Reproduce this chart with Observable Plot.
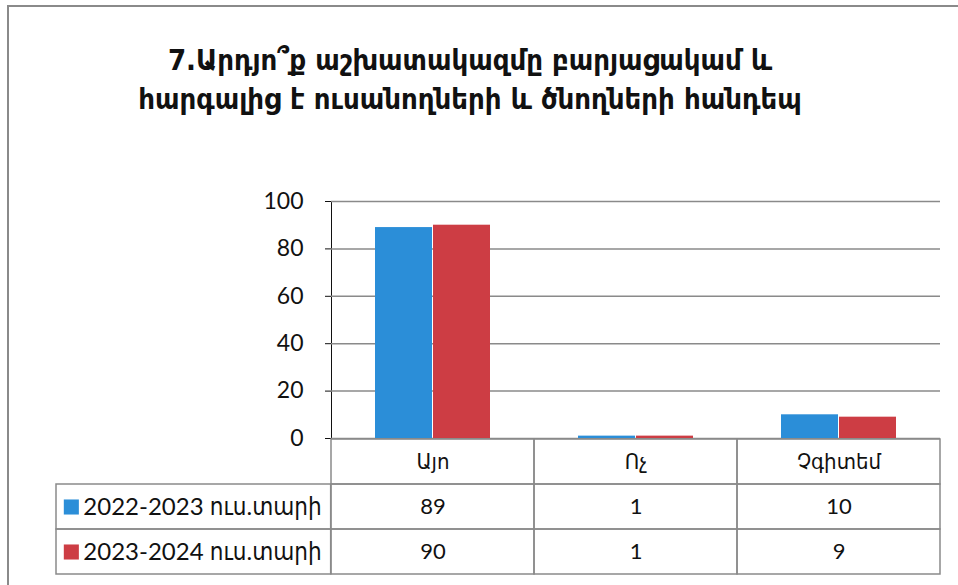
<!DOCTYPE html>
<html>
<head>
<meta charset="utf-8">
<script src="https://cdn.jsdelivr.net/npm/d3@7"></script>
<script src="https://cdn.jsdelivr.net/npm/@observablehq/plot@0.6"></script>
<style>
  html, body { margin: 0; padding: 0; background: #fff; }
  #page { position: relative; width: 958px; height: 585px; overflow: hidden; background: #fff; }
  #frame { position: absolute; left: 7px; top: 5px; width: 960px; height: 590px;
           border-left: 2px solid #8a8a8a; border-top: 2px solid #8a8a8a; }
  #title { position: absolute; left: 0; width: 940px; top: 41px; text-align: center;
           font-family: "DejaVu Sans Condensed", "DejaVu Sans", sans-serif; font-weight: bold;
           font-size: 29px; line-height: 39px; color: #111; }
  #chart { position: absolute; left: 0; top: 150px; }
  #table { position: absolute; left: 0; top: 437px; }
</style>
</head>
<body>
<div id="page">
  <div id="frame"></div>
  <div id="title">7.Արդյո՞ք աշխատակազմը բարյացակամ և<br>հարգալից է ուսանողների և ծնողների հանդեպ</div>
  <div id="chart"></div>
  <div id="table"></div>
</div>
<script>
const categories = ["Այո", "Ոչ", "Չգիտեմ"];
const series = ["2022-2023 ուս.տարի", "2023-2024 ուս.տարի"];
const values2022 = [89, 1, 10];
const values2023 = [90, 1, 9];
const yTicks = [0, 20, 40, 60, 80, 100];
const colors = ["#2b8ed8", "#cd3d44"];

const data = categories.flatMap((c, i) => [
  {category: c, series: series[0], value: values2022[i]},
  {category: c, series: series[1], value: values2023[i]}
]);

const W = 958, ML = 330, MR = 18;
const bw = (W - ML - MR) / categories.length;
const font = "Lato, 'DejaVu Sans Condensed', 'DejaVu Sans', sans-serif";
const lineColor = "#8a8a8a";

const chart = Plot.plot({
  width: W, height: 304,
  marginLeft: ML, marginRight: MR, marginTop: 51, marginBottom: 16,
  style: {fontFamily: font, fontSize: "23px", color: "#111", background: "transparent"},
  fx: {domain: categories, padding: 0, axis: null},
  x: {domain: series, axis: null, paddingInner: 0, paddingOuter: 0.75},
  y: {domain: [0, 100], ticks: yTicks, tickSize: 6, tickPadding: 22, line: true, label: null},
  color: {domain: series, range: colors},
  marks: [
    Plot.ruleY(yTicks, {stroke: lineColor, strokeWidth: 1.5, strokeOpacity: 1}),
    Plot.barY(data, {fx: "category", x: "series", y: "value", fill: "series", insetRight: 1})
  ]
});
document.getElementById("chart").appendChild(chart);

const rows = ["header", ...series];
const gridCells = rows.flatMap(r => categories.map(c => ({row: r, category: c})));

const table = Plot.plot({
  width: W, height: 140,
  marginLeft: ML, marginRight: MR, marginTop: 1, marginBottom: 3,
  style: {fontFamily: font, fontSize: "22px", color: "#111", background: "transparent"},
  x: {domain: categories, padding: 0, axis: null},
  y: {domain: rows, padding: 0, axis: null},
  color: {domain: series, range: colors},
  marks: [
    Plot.cell(gridCells, {x: "category", y: "row", fill: "none", stroke: lineColor, strokeWidth: 1.5}),
    Plot.cell(series, {x: () => categories[0], y: d => d, fill: "none", stroke: lineColor, strokeWidth: 1.5,
      insetLeft: -(ML - 55), insetRight: bw}),
    Plot.text(categories, {x: d => d, y: () => "header", text: d => d, fill: "#111"}),
    Plot.text(data, {x: "category", y: "series", text: d => String(d.value), fill: "#111"}),
    Plot.dot(series, {x: () => categories[0], y: d => d, symbol: "square", fill: d => d, r: 8.5,
      dx: -(ML + bw / 2 - 70)}),
    Plot.text(series, {x: () => categories[0], y: d => d, text: d => d, textAnchor: "start", fill: "#111",
      fontSize: 24, dx: -(ML + bw / 2 - 82)})
  ]
});
document.getElementById("table").appendChild(table);
</script>
</body>
</html>
